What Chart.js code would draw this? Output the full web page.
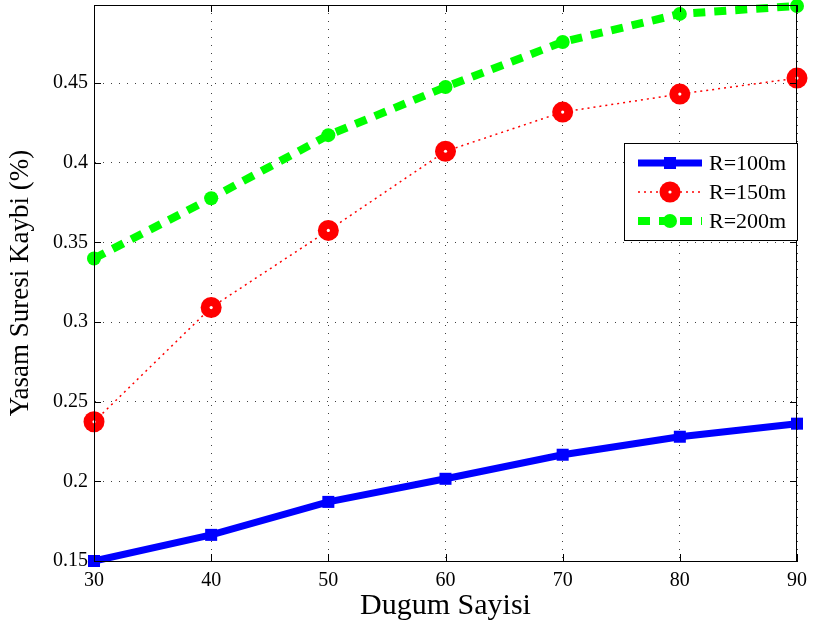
<!DOCTYPE html>
<html>
<head>
<meta charset="utf-8">
<script src="https://cdn.jsdelivr.net/npm/chart.js@4"></script>
<style>
  html, body { margin: 0; padding: 0; background: #fff; }
</style>
</head>
<body>
<canvas id="graph" width="815" height="631"></canvas>
<script>
const nodes = [30, 40, 50, 60, 70, 80, 90];
const r100 = [0.150, 0.1664, 0.1871, 0.2016, 0.2167, 0.2280, 0.2362];
const r150 = [0.2374, 0.3091, 0.3575, 0.4072, 0.4318, 0.4431, 0.4531];
const r200 = [0.3399, 0.3777, 0.4173, 0.4475, 0.4758, 0.4934, 0.4984];
const xTicks = [30, 40, 50, 60, 70, 80, 90];
const yTicks = [0.15, 0.2, 0.25, 0.3, 0.35, 0.4, 0.45];
const seriesNames = ["R=100m", "R=150m", "R=200m"];

const serif = "'Liberation Serif', 'Times New Roman', serif";

function pts(ys) {
  return nodes.map((x, i) => ({ x: x, y: ys[i] }));
}

// box, inward ticks, white dots in red markers, legend
const matlabLook = {
  id: "matlabLook",
  afterDatasetsDraw(chart) {
    const ctx = chart.ctx;
    const a = chart.chartArea;
    const xs = chart.scales.x;
    const ys = chart.scales.y;

    // white center dot on the red circles
    const meta = chart.getDatasetMeta(1);
    ctx.save();
    ctx.fillStyle = "#fff";
    meta.data.forEach(p => {
      ctx.beginPath();
      ctx.arc(p.x, p.y, 1.6, 0, Math.PI * 2);
      ctx.fill();
    });
    ctx.restore();

    ctx.save();
    ctx.strokeStyle = "#000";
    ctx.lineWidth = 1;
    ctx.strokeRect(a.left + 0.5, a.top + 0.5, a.right - a.left - 1, a.bottom - a.top);
    ctx.beginPath();
    xTicks.forEach(v => {
      const px = Math.round(xs.getPixelForValue(v)) + 0.5;
      ctx.moveTo(px, a.bottom); ctx.lineTo(px, a.bottom - 7);
      ctx.moveTo(px, a.top); ctx.lineTo(px, a.top + 7);
    });
    yTicks.forEach(v => {
      const py = Math.round(ys.getPixelForValue(v)) + 0.5;
      ctx.moveTo(a.left, py); ctx.lineTo(a.left + 7, py);
      ctx.moveTo(a.right, py); ctx.lineTo(a.right - 7, py);
    });
    ctx.stroke();

    // legend
    const lx = 624, ly = 143, lw = 173, lh = 97;
    ctx.fillStyle = "#fff";
    ctx.fillRect(lx, ly, lw, lh);
    ctx.strokeRect(lx + 0.5, ly + 0.5, lw, lh);
    ctx.font = "22px " + serif;
    ctx.textBaseline = "middle";
    chart.data.datasets.forEach((ds, i) => {
      const yy = ly + 20 + i * 29;
      ctx.save();
      ctx.strokeStyle = ds.borderColor;
      ctx.lineWidth = ds.borderWidth;
      ctx.setLineDash(ds.borderDash || []);
      ctx.beginPath();
      ctx.moveTo(638, yy); ctx.lineTo(702, yy);
      ctx.stroke();
      ctx.setLineDash([]);
      ctx.fillStyle = ds.pointBackgroundColor;
      ctx.beginPath();
      if (ds.pointStyle === "rect") {
        const r = ds.pointRadius * Math.SQRT1_2;
        ctx.fillRect(670 - r, yy - r, 2 * r, 2 * r);
      } else {
        ctx.arc(670, yy, ds.pointRadius, 0, Math.PI * 2);
        ctx.fill();
      }
      if (i === 1) {
        ctx.fillStyle = "#fff";
        ctx.beginPath();
        ctx.arc(670, yy, 1.6, 0, Math.PI * 2);
        ctx.fill();
      }
      ctx.restore();
      ctx.fillStyle = "#000";
      ctx.fillText(seriesNames[i], 709, yy + 1);
    });
    ctx.restore();
  }
};

new Chart(document.getElementById("graph").getContext("2d"), {
  type: "line",
  data: {
    datasets: [
      {
        label: seriesNames[0],
        data: pts(r100),
        borderColor: "rgb(0, 0, 255)",
        backgroundColor: "rgb(0, 0, 255)",
        pointBackgroundColor: "rgb(0, 0, 255)",
        borderWidth: 7,
        pointStyle: "rect",
        pointRadius: 8.5,
        pointBorderWidth: 0,
        clip: false,
      },
      {
        label: seriesNames[1],
        data: pts(r150),
        borderColor: "rgb(255, 0, 0)",
        backgroundColor: "rgb(255, 0, 0)",
        pointBackgroundColor: "rgb(255, 0, 0)",
        borderWidth: 1.5,
        borderDash: [2, 4],
        pointStyle: "circle",
        pointRadius: 10.5,
        pointBorderWidth: 0,
        clip: false,
      },
      {
        label: seriesNames[2],
        data: pts(r200),
        borderColor: "rgb(0, 255, 0)",
        backgroundColor: "rgb(0, 255, 0)",
        pointBackgroundColor: "rgb(0, 255, 0)",
        borderWidth: 8,
        borderDash: [12, 9],
        pointStyle: "circle",
        pointRadius: 7,
        pointBorderWidth: 0,
        clip: false,
      }
    ],
  },
  options: {
    responsive: false,
    animation: false,
    layout: { autoPadding: false, padding: { top: 5, right: 18, left: 0, bottom: 0 } },
    plugins: {
      legend: { display: false },
      tooltip: { enabled: false },
    },
    scales: {
      x: {
        type: "linear",
        min: 30,
        max: 90,
        afterBuildTicks: s => { s.ticks = xTicks.map(v => ({ value: v })); },
        afterFit: s => { s.height = 70; s.paddingLeft = 0; s.paddingRight = 0; },
        grid: { color: "rgba(0,0,0,0.75)", drawTicks: false },
        border: { display: true, color: "#000", width: 1, dash: [1, 7] },
        ticks: { color: "#000", padding: 8, font: { family: serif, size: 20 }, maxRotation: 0 },
        title: {
          display: true,
          text: "Dugum Sayisi",
          color: "#000",
          font: { family: serif, size: 30 },
          padding: { top: 0, bottom: 7 },
        },
      },
      y: {
        type: "linear",
        min: 0.15,
        max: 0.499,
        afterBuildTicks: s => { s.ticks = yTicks.map(v => ({ value: v })); },
        afterFit: s => { s.width = 94; s.paddingTop = 0; s.paddingBottom = 0; },
        grid: { color: "rgba(0,0,0,0.75)", drawTicks: false },
        border: { display: true, color: "#000", width: 1, dash: [1, 7] },
        ticks: {
          color: "#000",
          padding: 6,
          font: { family: serif, size: 20 },
          callback: v => String(parseFloat(v.toFixed(2))),
        },
        title: {
          display: true,
          text: "Yasam Suresi Kaybi (%)",
          color: "#000",
          font: { family: serif, size: 27 },
          padding: { top: 5, bottom: 0 },
        },
      },
    },
  },
  plugins: [matlabLook],
});
</script>
</body>
</html>
